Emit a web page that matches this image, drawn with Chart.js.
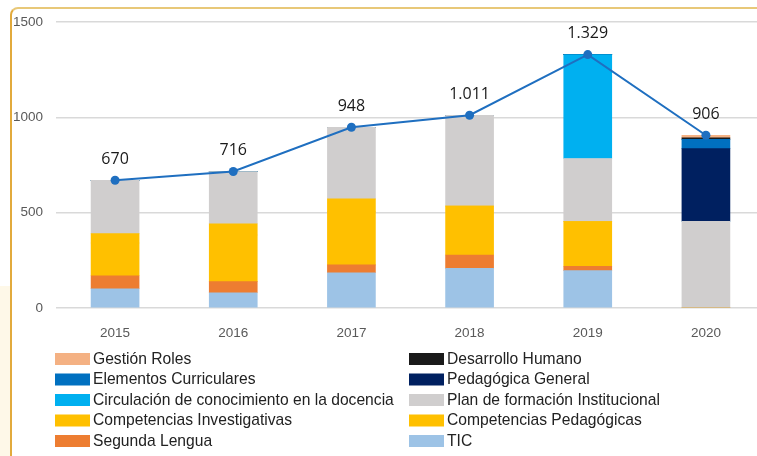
<!DOCTYPE html>
<html>
<head>
<meta charset="utf-8">
<script src="https://cdn.jsdelivr.net/npm/chart.js@4"></script>
<style>
  html, body { margin: 0; padding: 0; background: #fff; overflow: hidden; }
  #wrap { position: relative; width: 770px; height: 456px; }
  .strip { position: absolute; left: 0; top: 286px; width: 10px; height: 170px; background: #fef8e8; }
  .frame { position: absolute; left: 10px; top: 7px; width: 800px; height: 500px;
           border-left: 2px solid #e2aa3c; border-top: 2px solid #e8c878; border-top-left-radius: 8px; }
  #chart { position: absolute; left: 0; top: 0; }
</style>
</head>
<body>
<div id="wrap">
  <div class="strip"></div>
  <div class="frame"></div>
  <canvas id="chart" width="770" height="456"></canvas>
</div>
<script>
const years = ['2015', '2016', '2017', '2018', '2019', '2020'];

// stack order, bottom to top
const tic            = [101,  80, 185, 208, 196,   0];
const segundaLengua  = [ 68,  58,  41,  70,  23,   0];
const compPedagog    = [172, 245, 279, 257, 234,   0];
const compInvestig   = [ 49,  59,  67,   0,   0,   0];
const planFormacion  = [280, 274, 376, 476, 331, 455];
const circulacion    = [  0,   0,   0,   0, 545,   0];
const pedagGeneral   = [  0,   0,   0,   0,   0, 381];
const elementos      = [  0,   0,   0,   0,   0,  48];
const desarrollo     = [  0,   0,   0,   0,   0,   8];
const gestionRoles   = [  0,   0,   0,   0,   0,  14];

const totals = [670, 716, 948, 1011, 1329, 906];
const yTicks = [0, 500, 1000, 1500];

const fmt = v => v.toLocaleString('de-DE');

const bar = (label, data, color) => ({
  type: 'bar', label, data, backgroundColor: color, stack: 'a', order: 1,
  barThickness: 48
});

// two-column legend, condensed text like the original
const legendPlugin = {
  id: 'twoColLegend',
  afterDraw(chart) {
    const ctx = chart.ctx;
    const items = chart.data.datasets.filter(d => d.type === 'bar').slice().reverse();
    ctx.save();
    ctx.font = '17px "Liberation Sans", sans-serif';
    ctx.textBaseline = 'middle';
    items.forEach((d, k) => {
      const col = k % 2, row = Math.floor(k / 2);
      const bx = col ? 409 : 55;
      const tx = col ? 447 : 93;
      const y = 359 + row * 20.5;
      ctx.fillStyle = d.backgroundColor;
      ctx.fillRect(bx, y - 6, 35, 12);
      ctx.fillStyle = '#222';
      ctx.save();
      ctx.translate(tx, y);
      ctx.scale(0.92, 1);
      ctx.fillText(d.label, 0, 0);
      ctx.restore();
    });
    ctx.restore();
  }
};

const labelPlugin = {
  id: 'totalLabels',
  afterDatasetsDraw(chart) {
    const idx = chart.data.datasets.findIndex(d => d.type === 'line');
    const meta = chart.getDatasetMeta(idx);
    const ctx = chart.ctx;
    ctx.save();
    ctx.font = '16px "Open Sans", sans-serif';
    ctx.fillStyle = '#1a1a1a';
    ctx.textAlign = 'center';
    ctx.textBaseline = 'middle';
    meta.data.forEach((pt, i) => {
      ctx.fillText(fmt(totals[i]), pt.x, pt.y - 21);
    });
    ctx.restore();
  }
};

const tickFont = { family: '"Liberation Sans", sans-serif', size: 13.5 };

new Chart(document.getElementById('chart'), {
  data: {
    labels: years,
    datasets: [
      { type: 'line', label: 'Total', data: totals, stack: 'line', order: 0,
        borderColor: '#1f6fc0', backgroundColor: '#1f6fc0', borderWidth: 2,
        pointRadius: 4.5, pointBackgroundColor: '#1f6fc0', pointBorderWidth: 0, tension: 0 },
      bar('TIC', tic, '#9dc3e6'),
      bar('Segunda Lengua', segundaLengua, '#ed7d31'),
      bar('Competencias Pedagógicas', compPedagog, '#ffc000'),
      bar('Competencias Investigativas', compInvestig, '#ffc000'),
      bar('Plan de formación Institucional', planFormacion, '#d0cece'),
      bar('Circulación de conocimiento en la docencia', circulacion, '#00b0f0'),
      bar('Pedagógica General', pedagGeneral, '#002060'),
      bar('Elementos Curriculares', elementos, '#0070c0'),
      bar('Desarrollo Humano', desarrollo, '#1a1a1a'),
      bar('Gestión Roles', gestionRoles, '#f4b183'),
    ]
  },
  options: {
    responsive: false, animation: false,
    layout: { padding: { top: 22, right: 5, bottom: 118, left: 0 } },
    plugins: { legend: { display: false }, tooltip: { enabled: false } },
    scales: {
      x: {
        stacked: true,
        grid: { display: false }, border: { display: false },
        ticks: { color: '#595959', padding: 9, font: tickFont },
        afterFit: s => { s.height = 30; }
      },
      y: {
        stacked: true, min: 0, max: 1500,
        afterBuildTicks: s => { s.ticks = yTicks.map(v => ({ value: v })); },
        grid: { color: '#d9d9d9', lineWidth: 1.5, drawTicks: false },
        border: { display: false },
        ticks: { color: '#595959', padding: 13, font: tickFont, callback: v => String(v) },
        afterFit: s => { s.width = 56; }
      }
    }
  },
  plugins: [legendPlugin, labelPlugin]
});
</script>
</body>
</html>
